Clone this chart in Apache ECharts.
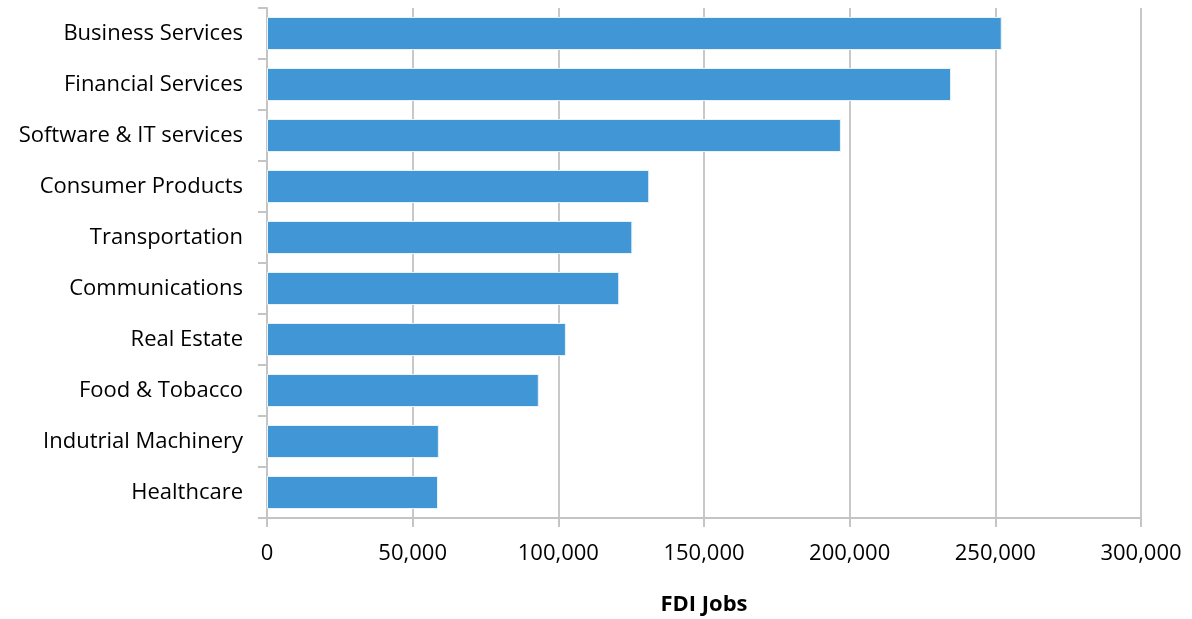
<!DOCTYPE html>
<html><head><meta charset="utf-8">
<script src="https://cdn.jsdelivr.net/npm/echarts@6/dist/echarts.min.js"></script>
<style>html,body{margin:0;padding:0;background:#fff}#c{width:1192px;height:619px}</style>
</head><body><div id="c"></div>
<script>
const categories = ["Business Services","Financial Services","Software & IT services","Consumer Products","Transportation","Communications","Real Estate","Food & Tobacco","Indutrial Machinery","Healthcare"];
const jobs = [252200,234800,197000,131200,125400,120900,102600,93300,59000,58700];
const xTicks = [0,50000,100000,150000,200000,250000,300000];
const axisName = "FDI Jobs";

const chart = echarts.init(document.getElementById('c'));
const font = "'Open Sans', 'Noto Sans', sans-serif";
chart.setOption({
  animation:false,
  grid:{left:267,right:51,top:8,bottom:101,containLabel:false,outerBoundsMode:'none'},
  xAxis:{type:'value',min:xTicks[0],max:xTicks[xTicks.length-1],interval:50000,
    name:axisName,nameLocation:'middle',nameGap:76,
    nameTextStyle:{fontFamily:font,fontSize:22,fontWeight:'bold',color:'#000'},
    axisLine:{show:true,lineStyle:{color:'#c4c4c4',width:2}},
    axisTick:{show:true,length:9,lineStyle:{color:'#c4c4c4',width:2}},
    splitLine:{show:true,lineStyle:{color:'#c8c8c8',width:2}},
    axisLabel:{fontFamily:font,fontSize:22,color:'#000',margin:25,
      formatter:v=>v.toLocaleString('en-US')}},
  yAxis:{type:'category',data:categories,inverse:true,
    axisLine:{show:true,lineStyle:{color:'#c4c4c4',width:2}},
    axisTick:{show:true,length:9,alignWithLabel:false,lineStyle:{color:'#c4c4c4',width:2}},
    axisLabel:{fontFamily:font,fontSize:22,color:'#000',margin:24,padding:[8,0,0,0]}},
  series:[{type:'bar',data:jobs,barWidth:33,
    itemStyle:{color:'#4197d5',borderColor:'#e8f2fa',borderWidth:1}}]
});
</script></body></html>
